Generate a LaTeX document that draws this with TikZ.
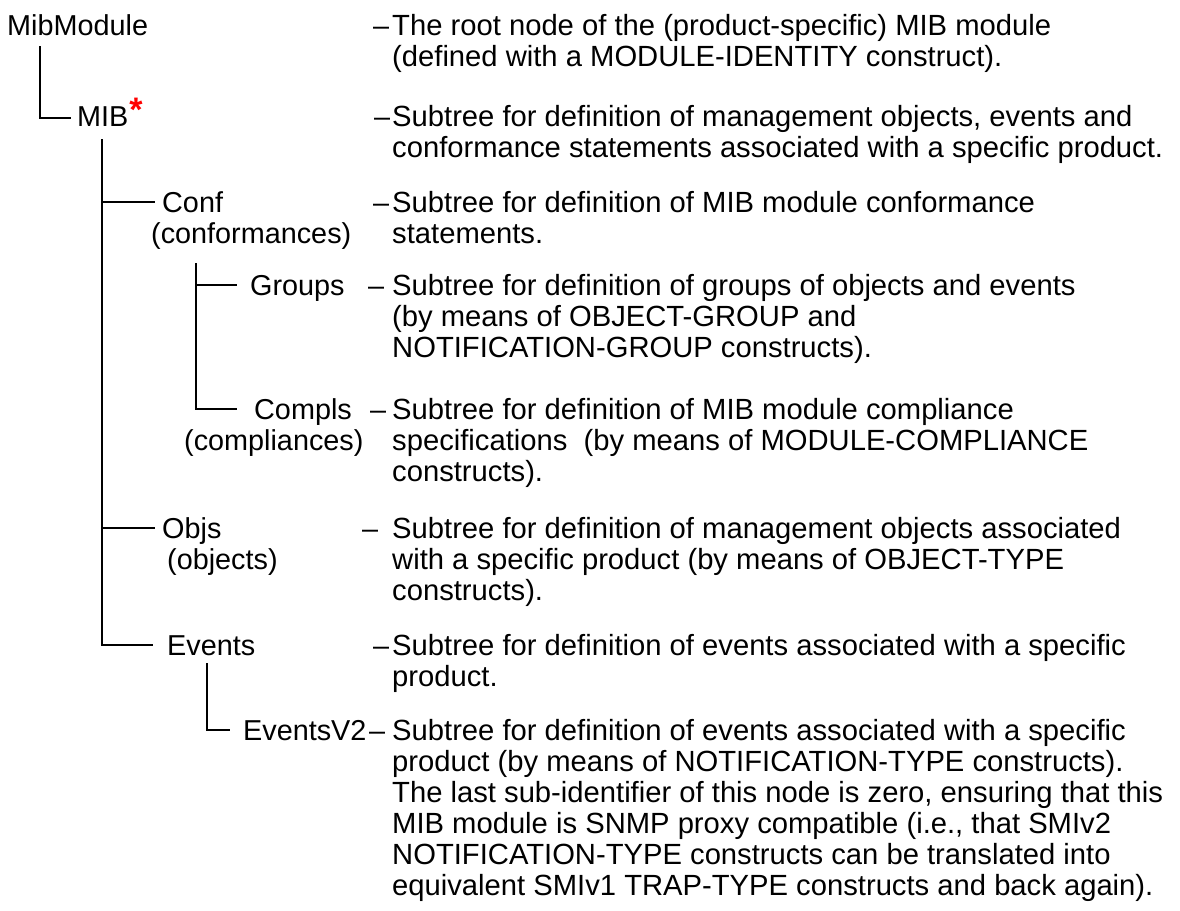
\documentclass[tikz,border=0pt]{standalone}
\usepackage{fontspec}
\setmainfont{Liberation Sans}
\begin{document}
\begin{tikzpicture}[x=1pt,y=-1pt,
  lbl/.style={inner sep=0pt, anchor=base west, text height=20pt, text depth=0pt,
              font=\fontsize{28.8}{31}\selectfont},
  desc/.style={inner sep=0pt, anchor=north west, align=left,
              font=\fontsize{29.2}{31}\selectfont},
  conn/.style={line width=1.4pt}]
\useasboundingbox (0,0) rectangle (1180,910);

% tree labels
\node[lbl] (mibmodule) at (7,35) {MibModule};
\node[lbl] (mib) at (77,126) {MIB\kern1pt\raisebox{5pt}{\textcolor{red}{\fontsize{34}{34}\selectfont\bfseries *}}};
\node[lbl] (conf) at (162,212) {Conf};
\node[lbl] (confb) at (151,243) {(conformances)};
\node[lbl] (groups) at (250,295) {Groups};
\node[lbl] (compls) at (254,419) {Compls};
\node[lbl] (complsb) at (184,450) {(compliances)};
\node[lbl] (objs) at (162,538) {Objs};
\node[lbl] (objsb) at (167,569) {(objects)};
\node[lbl] (events) at (167,655) {Events};
\node[lbl] (eventsv2) at (243,740) {EventsV2};

% dashes
\node[lbl] (dash1) at (373,35) {–};
\node[lbl] (dash2) at (374,126) {–};
\node[lbl] (dash3) at (373,212) {–};
\node[lbl] (dash4) at (368,295) {–};
\node[lbl] (dash5) at (370,419) {–};
\node[lbl] (dash6) at (362,538) {–};
\node[lbl] (dash7) at (373,655) {–};
\node[lbl] (dash8) at (369,740) {–};

% descriptions
\node[desc] (d1) at (392,35-21.7) {\strut The root node of the (product-specific) MIB module\\(defined with a MODULE-IDENTITY construct).};
\node[desc] (d2) at (392,126-21.7) {\strut Subtree for definition of management objects, events and\\conformance statements associated with a specific product.};
\node[desc] (d3) at (392,212-21.7) {\strut Subtree for definition of MIB module conformance\\statements.};
\node[desc] (d4) at (392,295-21.7) {\strut Subtree for definition of groups of objects and events\\(by means of OBJECT-GROUP and\\NOTIFICATION-GROUP constructs).};
\node[desc] (d5) at (392,419-21.7) {\strut Subtree for definition of MIB module compliance\\specifications\ \ (by means of MODULE-COMPLIANCE\\constructs).};
\node[desc] (d6) at (392,538-21.7) {\strut Subtree for definition of management objects associated\\with a specific product (by means of OBJECT-TYPE\\constructs).};
\node[desc] (d7) at (392,655-21.7) {\strut Subtree for definition of events associated with a specific\\product.};
\node[desc] (d8) at (392,740-21.7) {\strut Subtree for definition of events associated with a specific\\product (by means of NOTIFICATION-TYPE constructs).\\The last sub-identifier of this node is zero, ensuring that this\\MIB module is SNMP proxy compatible (i.e., that SMIv2\\NOTIFICATION-TYPE constructs can be translated into\\equivalent SMIv1 TRAP-TYPE constructs and back again).};

% trunk tops
\coordinate (t0) at (40,46);
\coordinate (t1) at (102,139);
\coordinate (t2) at (196,263);
\coordinate (t3) at (207,663);

% connectors
\draw[conn] (t0) |- ([xshift=-6pt,yshift=-2pt]mib.west);
\draw[conn] (t1) |- ([xshift=-14pt]events.west);
\draw[conn] (t1 |- conf.west) -- ([xshift=-7pt]conf.west);
\draw[conn] (t1 |- objs.west) -- ([xshift=-7pt]objs.west);
\draw[conn] (t2) |- ([xshift=-17pt]compls.west);
\draw[conn] (t2 |- groups.west) -- ([xshift=-13pt]groups.west);
\draw[conn] (t3) |- ([xshift=-13pt]eventsv2.west);
\end{tikzpicture}
\end{document}
